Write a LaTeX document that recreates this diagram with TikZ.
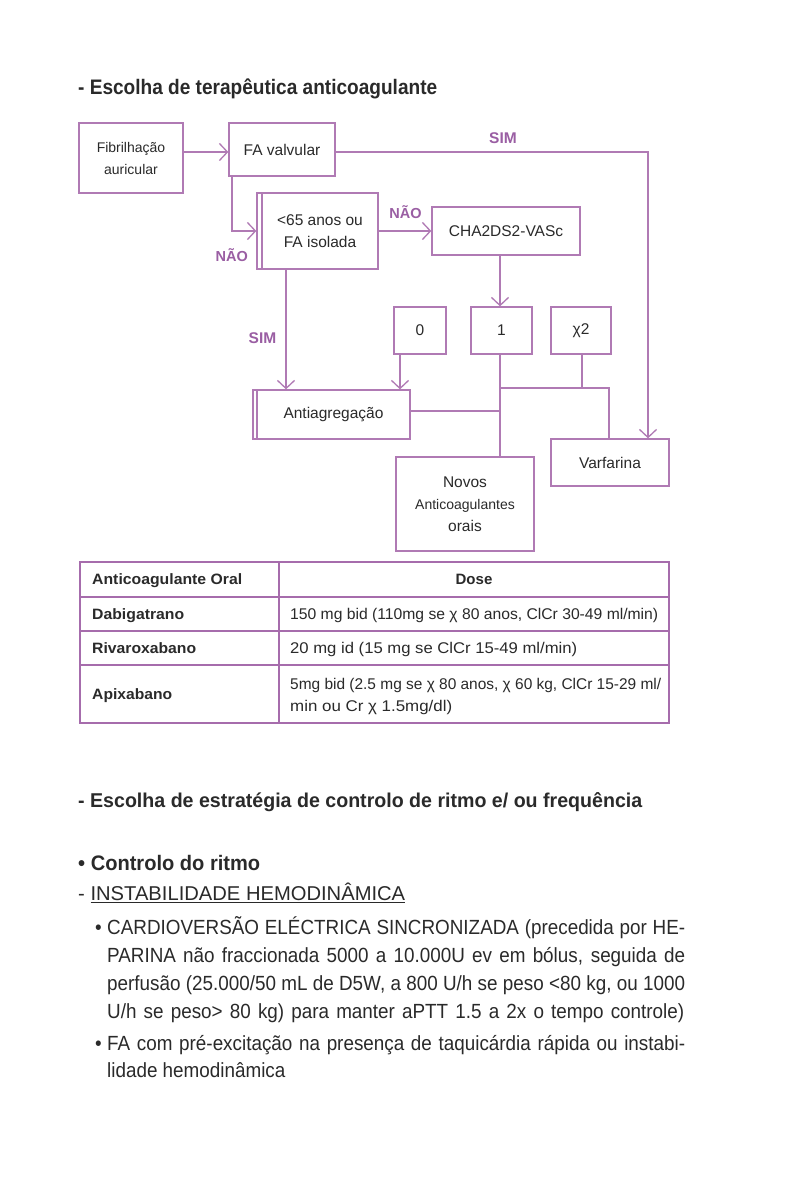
\documentclass[tikz,border=0pt]{standalone}
\usepackage{fontspec}
\usepackage{graphicx}
\setmainfont{Liberation Sans}
\newfontfamily\cf[FakeStretch=0.92]{Liberation Sans}
\usetikzlibrary{arrows.meta}
\definecolor{boxc}{HTML}{B07AB4}
\definecolor{labc}{HTML}{9A5EA3}
\definecolor{txt}{HTML}{2A2A2A}
\definecolor{tabc}{HTML}{A66CAC}
\newcommand\fw[2]{\resizebox{#1}{\height}{#2}}
\begin{document}
\begin{tikzpicture}[x=1pt,y=-1pt,
  fbox/.style={draw=boxc,line width=1.3pt,rectangle,inner sep=0pt,align=center,text=txt,font=\fontsize{15.5}{22}\selectfont},
  arr/.style={draw=boxc,line width=1.3pt,-{Straight Barb[length=8pt,width=17pt,line width=1.3pt]}},
  ln/.style={draw=boxc,line width=1.3pt},
  lab/.style={text=labc,font=\bfseries\fontsize{14.5}{17}\selectfont,inner sep=0pt},
  tab/.style={draw=tabc,line width=1.6pt},
  tt/.style={text=txt,inner sep=0pt,anchor=base west,font=\fontsize{15.5}{19}\selectfont},
  bt/.style={text=txt,inner sep=0pt,anchor=base west,font=\cf\fontsize{20.5}{24}\selectfont},
  ]
\useasboundingbox[fill=white] (0,0) rectangle (788,1182);

% Title
\node[text=txt,inner sep=0pt,anchor=base west,font=\bfseries\fontsize{21}{24}\selectfont] (title) at (78,95)
  {\fw{359pt}{- Escolha de terapêutica anticoagulante}};

% Flowchart boxes
\node[fbox,minimum width=104pt,minimum height=70pt,font=\fontsize{14}{22}\selectfont] (fib) at (131,158) {Fibrilhação\\auricular};
\node[fbox,minimum width=106pt,minimum height=53pt] (fav) at (282,149.5) {FA valvular};
\node[fbox,minimum width=121pt,minimum height=76pt] (age) at (317.5,231) {\hspace*{5pt}<65 anos ou\\\hspace*{5pt}FA isolada};
\draw[ln] (262,193) -- (262,269);
\node[fbox,minimum width=148pt,minimum height=48pt] (cha) at (506,231) {CHA2DS2-VASc};
\node[fbox,minimum width=52pt,minimum height=47pt] (b0) at (420,330.5) {0};
\node[fbox,minimum width=61pt,minimum height=47pt] (b1) at (501.5,330.5) {1};
\node[fbox,minimum width=60pt,minimum height=47pt] (b2) at (581,330.5) {χ2};
\node[fbox,minimum width=157pt,minimum height=49pt] (anti) at (331.5,414.5) {\hspace*{4pt}Antiagregação};
\draw[ln] (257,390) -- (257,439);
\node[fbox,minimum width=118pt,minimum height=47pt] (var) at (610,462.5) {Varfarina};
\node[fbox,minimum width=138pt,minimum height=94pt] (nov) at (465,504) {Novos\\{\fontsize{14}{22}\selectfont Anticoagulantes}\\orais};

% Connectors
\draw[arr] (fib.east |- 0,152) -- (fav.west |- 0,152);
\draw[arr] (fav.south -| 232,0) |- (age.west);
\draw[arr] (age.east) -- (cha.west);
\draw[arr] (fav.east |- 0,152) -| (var.north -| 648,0);
\draw[arr] (cha.south -| 500,0) -- (b1.north -| 500,0);
\draw[arr] (age.south -| 286,0) -- (anti.north -| 286,0);
\draw[arr] (b0.south -| 400,0) -- (anti.north -| 400,0);
\draw[ln] (b1.south -| 500,0) -- (nov.north -| 500,0);
\draw[ln] (anti.east |- 0,411) -- (500,411);
\coordinate (j) at (500,388);
\draw[ln] (j) -| (var.north -| 609,0);
\draw[ln] (b2.south -| 582,0) -- (j -| 582,0);

% Labels
\node[lab,font=\bfseries\fontsize{15.5}{17}\selectfont] (sim1) at (503,138) {SIM};
\node[lab] (nao1) at (231.7,255) {NÃO};
\node[lab] (nao2) at (405.5,211.7) {NÃO};
\node[lab,font=\bfseries\fontsize{15.5}{17}\selectfont] (sim2) at (262.5,338) {SIM};

% Table
\draw[tab] (80,562) rectangle (669,723);
\draw[tab] (279,562) -- (279,723);
\draw[tab] (80,597) -- (669,597);
\draw[tab] (80,631) -- (669,631);
\draw[tab] (80,665) -- (669,665);
\node[tt,font=\bfseries\fontsize{15}{19}\selectfont] (th1) at (92,584.5) {\fw{150pt}{Anticoagulante Oral}};
\node[tt,anchor=base,font=\bfseries\fontsize{15}{19}\selectfont] (th2) at (474,584.5) {Dose};
\node[tt,font=\bfseries\fontsize{15}{19}\selectfont] (r1) at (92,619.5) {\fw{92pt}{Dabigatrano}};
\node[tt,font=\bfseries\fontsize{15}{19}\selectfont] (r2) at (92,653.5) {\fw{104pt}{Rivaroxabano}};
\node[tt,font=\bfseries\fontsize{15}{19}\selectfont] (r3) at (92,699.5) {\fw{80pt}{Apixabano}};
\node[tt] (d1) at (290,619.5) {\fw{368pt}{150 mg bid (110mg se χ 80 anos, ClCr 30-49 ml/min)}};
\node[tt] (d2) at (290,653.5) {\fw{287pt}{20 mg id (15 mg se ClCr 15-49 ml/min)}};
\node[tt] (d3a) at (290,689.5) {\fw{371pt}{5mg bid (2.5 mg se χ 80 anos, χ 60 kg, ClCr 15-29 ml/}};
\node[tt] (d3b) at (290,711.5) {\fw{162pt}{min ou Cr χ 1.5mg/dl)}};

% Bottom text
\node[bt,font=\bfseries\fontsize{20}{24}\selectfont] (h2) at (78,807)
  {\fw{564pt}{- Escolha de estratégia de controlo de ritmo e/ ou frequência}};
\node[bt,font=\bfseries\fontsize{21}{24}\selectfont] (h3) at (78,870.5)
  {\fw{182pt}{• Controlo do ritmo}};
\node[bt,font=\fontsize{20}{24}\selectfont] (h4) at (78,900.5)
  {\fw{327pt}{- \underline{INSTABILIDADE HEMODINÂMICA}}};
\node[bt] (bu1) at (95,934) {•};
\node[bt] (l1) at (107,934) {\makebox[578pt][s]{CARDIOVERSÃO ELÉCTRICA SINCRONIZADA (precedida por HE-}};
\node[bt] (l2) at (107,962) {\makebox[578pt][s]{PARINA não fraccionada 5000 a 10.000U ev em bólus, seguida de}};
\node[bt] (l3) at (107,990) {\makebox[578pt][s]{perfusão (25.000/50 mL de D5W, a 800 U/h se peso <80 kg, ou 1000}};
\node[bt] (l4) at (107,1018) {\makebox[577pt][s]{U/h se peso> 80 kg) para manter aPTT 1.5 a 2x o tempo controle)}};
\node[bt] (bu2) at (95,1050) {•};
\node[bt] (l5) at (107,1050) {\makebox[578pt][s]{FA com pré-excitação na presença de taquicárdia rápida ou instabi-}};
\node[bt] (l6) at (107,1077) {lidade hemodinâmica};
\end{tikzpicture}
\end{document}
